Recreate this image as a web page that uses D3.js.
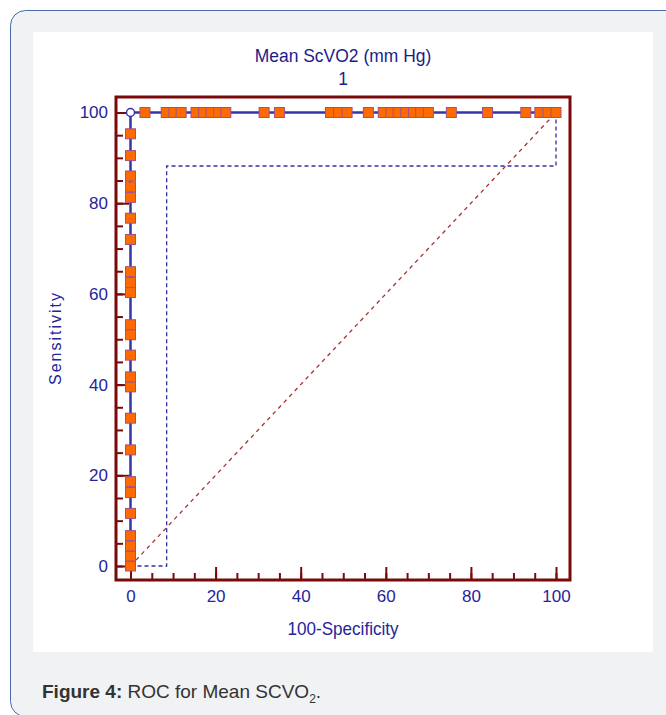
<!DOCTYPE html>
<html>
<head>
<meta charset="utf-8">
<script src="https://cdn.jsdelivr.net/npm/d3@7"></script>
<style>
  body { margin: 0; background: #fff; }
  svg text { font-family: "Liberation Sans Narrow", "Arial Narrow", "Liberation Sans", Arial, sans-serif; }
  .caption text { font-family: "Liberation Sans", Arial, sans-serif; }
</style>
</head>
<body>
<div id="chart"></div>
<script>
// ROC points: 100-Specificity (x) vs Sensitivity (y)
const leftSens = [0, 2.2, 4.4, 6.7, 11.6, 16.2, 18.6, 25.6, 32.6, 39.5, 41.7, 46.5,
  51.0, 53.2, 60.3, 62.5, 64.9, 72.0, 76.7, 81.3, 83.6, 86.0, 90.5, 95.3];
const topSpec = [3.4, 8.4, 10.2, 11.9, 15.4, 17.2, 18.9, 20.7, 22.4, 31.4, 35.0,
  47.0, 48.9, 50.9, 55.9, 59.4, 61.2, 62.9, 64.7, 66.5, 68.2, 70.0, 75.4, 83.9,
  92.9, 96.2, 98.1, 100];
const cornerPoint = [0, 100]; // optimal criterion, drawn as open circle
const ciX = [0, 8.5, 8.5, 100, 100];
const ciY = [0, 0, 88.2, 88.2, 100];
const majorTicks = [0, 20, 40, 60, 80, 100];
const minorTicks = d3.range(0, 101, 5);

const W = 666, H = 715;

const svg = d3.select("#chart").append("svg")
  .attr("width", W).attr("height", H);

// card background
svg.append("rect").attr("width", W).attr("height", H).attr("fill", "#fff");
svg.append("rect")
  .attr("x", 10.5).attr("y", 10.5)
  .attr("width", 690).attr("height", 706)
  .attr("rx", 15)
  .attr("fill", "#f1f2f4")
  .attr("stroke", "#4a6aa8")
  .attr("stroke-width", 1);
svg.append("rect")
  .attr("x", 33).attr("y", 32)
  .attr("width", 620).attr("height", 620)
  .attr("fill", "#fff");

const x = d3.scaleLinear().domain([0, 100]).range([130.5, 556]);
const y = d3.scaleLinear().domain([0, 100]).range([566, 112.5]);

const frame = { left: 116, right: 570, top: 97, bottom: 580 };
const axisRed = "#7a0a0a";
const labelBlue = "#25259a";

// axes (ticks inward)
const gxMinor = svg.append("g")
  .attr("transform", `translate(0,${frame.bottom})`)
  .call(d3.axisBottom(x).tickValues(minorTicks).tickSize(-7).tickFormat(""));
const gx = svg.append("g")
  .attr("transform", `translate(0,${frame.bottom})`)
  .call(d3.axisBottom(x).tickValues(majorTicks).tickSize(-13).tickPadding(10));
const gyMinor = svg.append("g")
  .attr("transform", `translate(${frame.left},0)`)
  .call(d3.axisLeft(y).tickValues(minorTicks).tickSize(-7).tickFormat(""));
const gy = svg.append("g")
  .attr("transform", `translate(${frame.left},0)`)
  .call(d3.axisLeft(y).tickValues(majorTicks).tickSize(-13).tickPadding(8));

[gxMinor, gx, gyMinor, gy].forEach((g) => {
  g.select(".domain").remove();
  g.selectAll("line").attr("stroke", axisRed).attr("stroke-width", 2);
  g.selectAll("text")
    .attr("fill", labelBlue)
    .style("font-size", "17px");
});
gx.selectAll("text").attr("dy", "0.71em");

// diagonal reference
svg.append("line")
  .attr("x1", x(0)).attr("y1", y(0))
  .attr("x2", x(100)).attr("y2", y(100))
  .attr("stroke", "#a83232")
  .attr("stroke-width", 1.3)
  .attr("stroke-dasharray", "4 4");

// dashed confidence bound
svg.append("path")
  .datum(d3.zip(ciX, ciY))
  .attr("d", d3.line().x((d) => x(d[0])).y((d) => y(d[1])))
  .attr("fill", "none")
  .attr("stroke", "#3030a0")
  .attr("stroke-width", 1.3)
  .attr("stroke-dasharray", "4 3");

// frame
svg.append("rect")
  .attr("x", frame.left).attr("y", frame.top)
  .attr("width", frame.right - frame.left)
  .attr("height", frame.bottom - frame.top)
  .attr("fill", "none")
  .attr("stroke", axisRed)
  .attr("stroke-width", 3);

// ROC curve
const rocPts = leftSens.map((s) => [0, s])
  .concat([cornerPoint])
  .concat(topSpec.map((sp) => [sp, 100]));

svg.append("path")
  .datum(rocPts)
  .attr("d", d3.line().x((d) => x(d[0])).y((d) => y(d[1])))
  .attr("fill", "none")
  .attr("stroke", "#3535a5")
  .attr("stroke-width", 2.5);

const markers = leftSens.map((s) => [0, s]).concat(topSpec.map((sp) => [sp, 100]));
svg.append("g")
  .selectAll("rect")
  .data(markers)
  .join("rect")
  .attr("x", (d) => x(d[0]) - 5)
  .attr("y", (d) => y(d[1]) - 5)
  .attr("width", 10).attr("height", 10)
  .attr("fill", "#ff6a00")
  .attr("stroke", "#a0508c")
  .attr("stroke-width", 1);

svg.append("circle")
  .attr("cx", x(cornerPoint[0])).attr("cy", y(cornerPoint[1]))
  .attr("r", 4)
  .attr("fill", "#fff")
  .attr("stroke", "#3535a5")
  .attr("stroke-width", 1.5);

// titles (condensed look via horizontal scale)
function narrowText(cx, cy, size, sx, str, fill) {
  return svg.append("text")
    .attr("transform", `translate(${cx},${cy}) scale(${sx},1)`)
    .attr("text-anchor", "middle")
    .attr("fill", fill)
    .style("font-size", size + "px")
    .text(str);
}
narrowText(343, 62, 19, 0.92, "Mean ScVO2 (mm Hg)", "#1c1c8a");
narrowText(343, 85, 19, 0.92, "1", "#1c1c8a");
narrowText(343, 635, 18, 0.95, "100-Specificity", labelBlue);

svg.append("text")
  .attr("transform", "translate(61,338) rotate(-90)")
  .attr("text-anchor", "middle")
  .attr("fill", labelBlue)
  .style("font-size", "16px")
  .style("letter-spacing", "2px")
  .text("Sensitivity");

// caption
const cap = svg.append("g").attr("class", "caption")
  .append("text")
  .attr("x", 42).attr("y", 698)
  .attr("fill", "#333")
  .style("font-size", "19px");
cap.append("tspan").style("font-weight", "bold").text("Figure 4:");
cap.append("tspan").text(" ROC for Mean SCVO");
cap.append("tspan").attr("dy", 5).style("font-size", "12px").text("2");
cap.append("tspan").attr("dy", -5).text(".");
</script>
</body>
</html>
